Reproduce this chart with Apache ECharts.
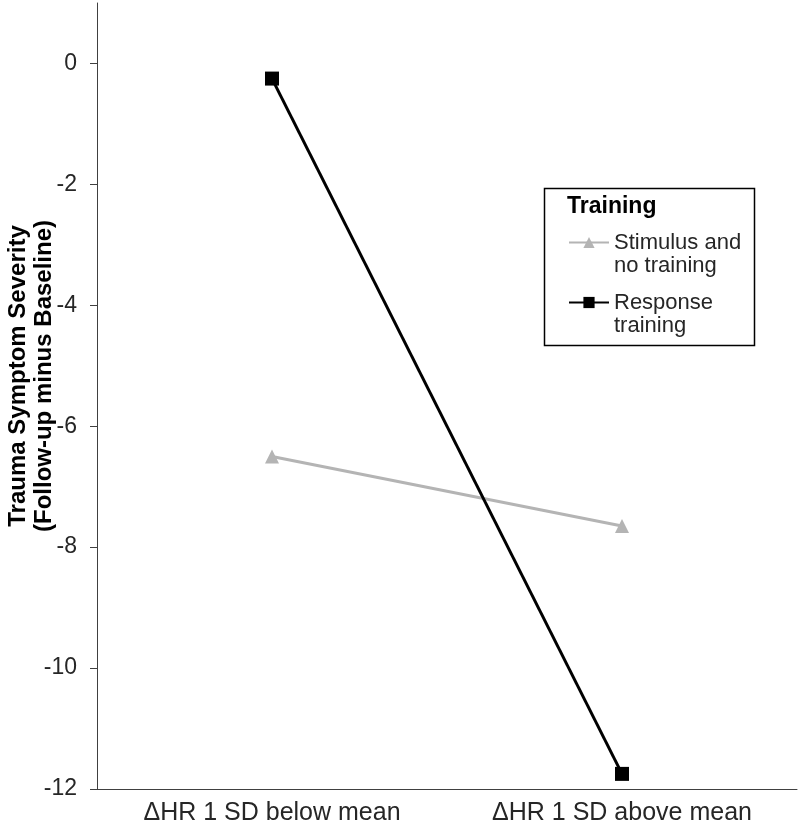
<!DOCTYPE html>
<html>
<head>
    <meta charset="utf-8">
    <title>Trauma Symptom Severity</title>
    <style>
        * { margin: 0; padding: 0; }
        #chart { width: 800px; height: 829px; background: #fff; }
    </style>
</head>
<body>
<div id="chart"></div>
<script src="https://cdn.jsdelivr.net/npm/echarts@6/dist/echarts.min.js"></script>
<script>
    // categories and values
    const categories = ['\u0394HR 1 SD below mean', '\u0394HR 1 SD above mean'];
    const stimulusValues = [-6.5, -7.65];
    const responseValues = [-0.25, -11.75];
    const yTicks = [-12, -10, -8, -6, -4, -2, 0];

    const chart = echarts.init(document.getElementById('chart'), null, { renderer: 'canvas' });
    const font = 'Liberation Sans, Arial, sans-serif';

    const option = {
        animation: false,
        textStyle: { fontFamily: font },
        grid: { left: 97, right: 3, top: 3, bottom: 40, containLabel: false, outerBoundsMode: 'none' },
        xAxis: {
            type: 'category',
            data: categories,
            boundaryGap: true,
            axisLine: { onZero: false, lineStyle: { color: '#404040', width: 1 } },
            axisTick: { length: 7, lineStyle: { color: '#404040' } },
            axisLabel: { color: '#262626', fontSize: 25, margin: 12, fontFamily: font }
        },
        yAxis: {
            type: 'value',
            min: -12,
            max: 1,
            interval: 2,
            name: 'Trauma Symptom Severity\n(Follow-up minus Baseline)',
            nameLocation: 'middle',
            nameRotate: 90,
            nameGap: 40,
            nameMoveOverlap: false,
            nameTextStyle: {
                color: '#000', fontSize: 24, fontWeight: 'bold', lineHeight: 26,
                fontFamily: font, padding: [0, 0, 0, 40]
            },
            splitLine: { show: false },
            axisLine: { show: true, lineStyle: { color: '#404040', width: 1 } },
            axisTick: { show: true, length: 7, customValues: yTicks, lineStyle: { color: '#404040' } },
            axisLabel: { color: '#262626', fontSize: 23, margin: 20, customValues: yTicks, fontFamily: font }
        },
        legend: {
            orient: 'vertical',
            left: 563,
            top: 203,
            itemWidth: 40,
            itemHeight: 14,
            itemGap: -9,
            // leading blank line puts the icon beside the first text line
            formatter: function (name) { return '\n' + name; },
            textStyle: { color: '#262626', fontSize: 22, lineHeight: 23, fontFamily: font },
            data: [
                { name: 'Stimulus and\nno training' },
                { name: 'Response\ntraining' }
            ]
        },
        graphic: [
            {
                type: 'rect',
                left: 542,
                top: 186,
                shape: { width: 210, height: 157 },
                style: { fill: 'none', stroke: '#000', lineWidth: 1.5 },
                z: 0
            },
            {
                type: 'text',
                left: 567,
                top: 195,
                style: { text: 'Training', fill: '#000', font: 'bold 23px ' + font }
            }
        ],
        series: [
            {
                name: 'Stimulus and\nno training',
                type: 'line',
                data: stimulusValues,
                symbol: 'triangle',
                symbolSize: 14,
                lineStyle: { color: '#b4b4b4', width: 3 },
                itemStyle: { color: '#b4b4b4' }
            },
            {
                name: 'Response\ntraining',
                type: 'line',
                data: responseValues,
                symbol: 'rect',
                symbolSize: 14,
                lineStyle: { color: '#000', width: 3 },
                itemStyle: { color: '#000' }
            }
        ]
    };

    chart.setOption(option);
</script>
</body>
</html>
